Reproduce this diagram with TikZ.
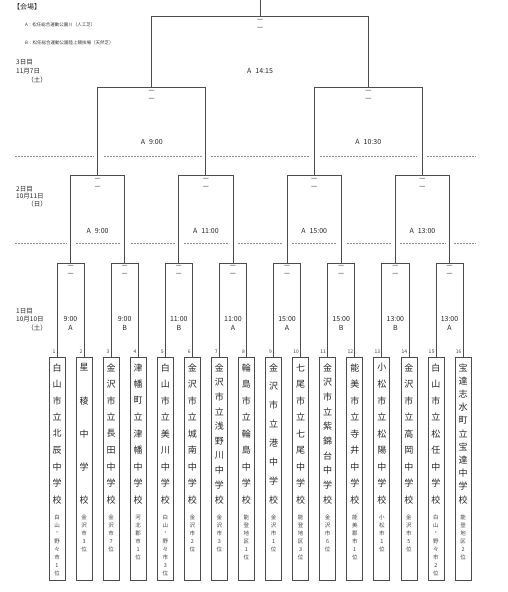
\documentclass[tikz,border=0pt]{standalone}
\usepackage{fontspec}
\setmainfont{Noto Sans CJK JP}
\usetikzlibrary{calc}
\makeatletter
\newcount\vcnt \newcount\vidx
\newcommand\vertname[2]{%
  \global\vcnt=0 \@tfor\vtok:=#2\do{\global\advance\vcnt by 1}%
  \global\vidx=0
  \@tfor\vtok:=#2\do{%
    \pgfmathsetmacro\vy{368+\the\vidx*132/(\the\vcnt-1)}%
    \node[namech] (n#1-\the\vidx) at ($(b#1.north)+(0,\vy-357)$) {\vtok};
    \global\advance\vidx by 1}}
\newcommand\vertsub[2]{%
  \global\vidx=0
  \@tfor\vtok:=#2\do{%
    \pgfmathsetmacro\vy{518+8*\the\vidx}%
    \node[subch] (s#1-\the\vidx) at ($(b#1.north)+(0,\vy-357)$) {\vtok};
    \global\advance\vidx by 1}}
\makeatother
\begin{document}
\begin{tikzpicture}[x=1pt,y=-1pt,
  line/.style={draw=black!70, line width=0.8pt},
  teambox/.style={draw=black!70, line width=0.8pt, minimum width=16pt, minimum height=223pt, inner sep=0pt},
  namech/.style={font=\fontsize{9}{9}\selectfont, text=black!85, inner sep=0pt},
  subch/.style={font=\fontsize{5.5}{5.5}\selectfont, text=black!75, inner sep=0pt},
  numlab/.style={font=\fontsize{5}{5}\selectfont, text=black!75, anchor=east, inner sep=0pt},
  timelab/.style={font=\fontsize{7}{7}\selectfont, text=black!85, inner sep=0pt},
  scoremark/.style={font=\fontsize{7.5}{7.5}\selectfont, text=black!75, inner sep=0pt},
  datelab/.style={font=\fontsize{6.5}{6.5}\selectfont, text=black!85, inner sep=0pt},
  legendlab/.style={font=\fontsize{4.5}{4.5}\selectfont, text=black!80, inner sep=0pt, anchor=west},
  sepline/.style={draw=black!45, line width=0.5pt, dash pattern=on 2pt off 1pt}
]
\useasboundingbox (0,0) rectangle (508,592);

% team boxes
\foreach \k in {1,...,16}{
  \node[teambox] (b\k) at ({57+27.07*(\k-1)},468.5) {};
  \node[numlab] (num\k) at ($(b\k.north)+(-1.5,-5)$) {\k};
}

\vertname{1}{白山市立北辰中学校}\vertsub{1}{白山・野々市1位}
\vertname{2}{星稜中学校}\vertsub{2}{金沢市3位}
\vertname{3}{金沢市立長田中学校}\vertsub{3}{金沢市7位}
\vertname{4}{津幡町立津幡中学校}\vertsub{4}{河北郡市1位}
\vertname{5}{白山市立美川中学校}\vertsub{5}{白山・野々市3位}
\vertname{6}{金沢市立城南中学校}\vertsub{6}{金沢市2位}
\vertname{7}{金沢市立浅野川中学校}\vertsub{7}{金沢市3位}
\vertname{8}{輪島市立輪島中学校}\vertsub{8}{能登地区1位}
\vertname{9}{金沢市立港中学校}\vertsub{9}{金沢市1位}
\vertname{10}{七尾市立七尾中学校}\vertsub{10}{能登地区3位}
\vertname{11}{金沢市立紫錦台中学校}\vertsub{11}{金沢市6位}
\vertname{12}{能美市立寺井中学校}\vertsub{12}{能美郡市1位}
\vertname{13}{小松市立松陽中学校}\vertsub{13}{小松市1位}
\vertname{14}{金沢市立高岡中学校}\vertsub{14}{金沢市5位}
\vertname{15}{白山市立松任中学校}\vertsub{15}{白山・野々市2位}
\vertname{16}{宝達志水町立宝達中学校}\vertsub{16}{能登地区2位}

% round 1 brackets
\foreach \i/\a/\b/\tm/\v in {1/1/2/9:00/A, 2/3/4/9:00/B, 3/5/6/11:00/B, 4/7/8/11:00/A,
                             5/9/10/15:00/A, 6/11/12/15:00/B, 7/13/14/13:00/B, 8/15/16/13:00/A}{
  \coordinate (j\i) at ($(b\a.north)!.5!(b\b.north)+(0,-93)$);
  \draw[line] (b\a.north) |- (j\i) -| (b\b.north);
  \node[scoremark] (mj\i a) at ($(j\i)+(0,3.5)$) {－};
  \node[scoremark] (mj\i b) at ($(j\i)+(0,11)$) {－};
  \node[timelab] (tj\i) at ($(j\i)+(0,55)$) {\tm};
  \node[timelab] (vj\i) at ($(j\i)+(0,64)$) {\v};
}

% round 2
\foreach \i/\a/\b/\tm in {1/1/2/9:00, 2/3/4/11:00, 3/5/6/15:00, 4/7/8/13:00}{
  \coordinate (k\i) at ($(j\a)!.5!(j\b)+(0,-88)$);
  \draw[line] (j\a) |- (k\i) -| (j\b);
  \node[scoremark] (mk\i a) at ($(k\i)+(0,4)$) {－};
  \node[scoremark] (mk\i b) at ($(k\i)+(0,12)$) {－};
  \node[timelab] (tk\i) at ($(k\i)+(0,55)$) {A\hspace{4pt}\tm};
}

% semifinals
\foreach \i/\a/\b/\tm in {1/1/2/9:00, 2/3/4/10:30}{
  \coordinate (l\i) at ($(k\a)!.5!(k\b)+(0,-88)$);
  \draw[line] (k\a) |- (l\i) -| (k\b);
  \node[scoremark] (ml\i a) at ($(l\i)+(0,4)$) {－};
  \node[scoremark] (ml\i b) at ($(l\i)+(0,12)$) {－};
  \node[timelab] (tl\i) at ($(l\i)+(0,54.5)$) {A\hspace{4pt}\tm};
}

% final
\coordinate (fin) at ($(l1)!.5!(l2)+(0,-71)$);
\coordinate (top) at ($(fin)+(0,-17)$);
\draw[line] (l1) |- (fin) -| (l2);
\draw[line] (fin) -- (top);
\node[scoremark] (mfa) at ($(fin)+(0,4)$) {－};
\node[scoremark] (mfb) at ($(fin)+(0,12)$) {－};
\node[timelab] (tf) at ($(fin)+(0,54)$) {A\hspace{4pt}14:15};

% day separators
\foreach \s/\e in {15/94, 104/202, 211/310, 320/417, 427/476}
  \draw[sepline] (\s,156) -- (\e,156);
\foreach \s/\e in {15/67, 76/121, 131/176, 184/229, 238/282, 292/337, 347/391, 400/446, 454/476}
  \draw[sepline] (\s,243) -- (\e,243);

% legend
\node[anchor=west, font=\fontsize{7}{7}\selectfont, text=black!85, inner sep=0pt] (venue) at (13,7) {【会場】};
\node[legendlab] (legA) at (25,25) {A：松任総合運動公園Ⅱ（人工芝）};
\node[legendlab] (legB) at (25,43) {B：松任総合運動公園陸上競技場（天然芝）};

% dates
\node[datelab, anchor=west] (d3a) at (16,62) {3日目};
\node[datelab, anchor=west] (d3b) at (16,71) {11月7日};
\node[datelab, anchor=east] (d3c) at (47,80.5) {（土）};
\node[datelab, anchor=west] (d2a) at (16,189) {2日目};
\node[datelab, anchor=west] (d2b) at (16,196.5) {10月11日};
\node[datelab, anchor=east] (d2c) at (47,204) {（日）};
\node[datelab, anchor=west] (d1a) at (16,311) {1日目};
\node[datelab, anchor=west] (d1b) at (16,319.5) {10月10日};
\node[datelab, anchor=east] (d1c) at (47,328.5) {（土）};
\end{tikzpicture}
\end{document}
